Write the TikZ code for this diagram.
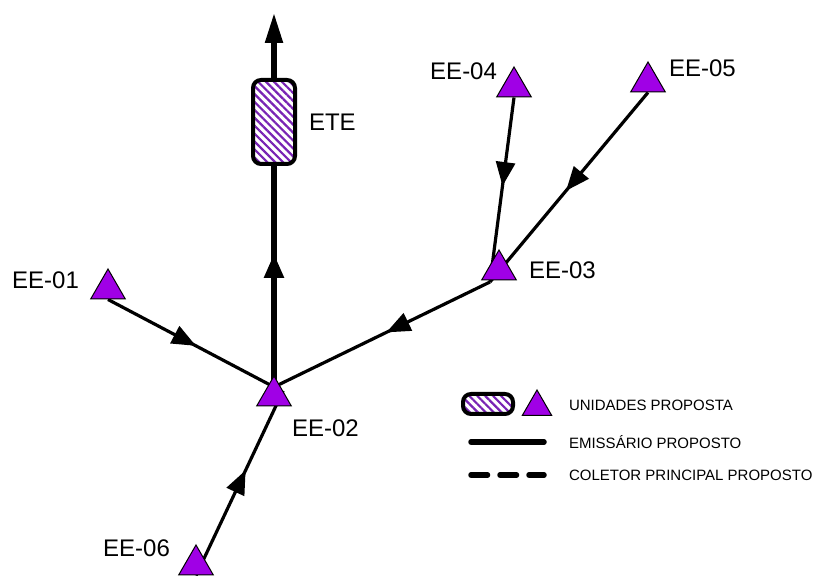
\documentclass[tikz,border=0pt]{standalone}
\usepackage{fontspec}
\setmainfont{Liberation Sans}
\usetikzlibrary{shapes.geometric,arrows.meta,decorations.markings,patterns.meta,backgrounds}
\definecolor{eepurple}{RGB}{160,0,230}
\definecolor{hatch}{RGB}{120,35,180}
\tikzset{
    station/.style={regular polygon,regular polygon sides=3,draw,line width=0.5pt,fill=eepurple,inner sep=0pt,minimum size=#1},
    station/.default=20pt,
    plant/.style={draw,line width=2pt,rounded corners=4pt,pattern={Lines[angle=-45,distance=2.8pt,line width=1.1pt]},pattern color=hatch},
    coletor/.style={line width=1.6pt},
    emissario/.style={line width=2.6pt},
    flow/.style={postaction={decorate},decoration={markings,mark=at position #1 with {\arrow{Triangle[length=12pt,width=9.5pt]}}}},
    flow/.default=0.5,
    eename/.style={font=\fontsize{12}{14}\selectfont},
    keytext/.style={font=\fontsize{7.5}{9}\selectfont}
}
\begin{document}
\begin{tikzpicture}[x=0.5pt,y=-0.5pt]
            \useasboundingbox (0,0) rectangle (815,576);

            \node[station] (ee01) at (108,289) {};
            \node[station] (ee02) at (274,396) {};
            \node[station] (ee03) at (499,270) {};
            \node[station] (ee04) at (514,87) {};
            \node[station] (ee05) at (648,82) {};
            \node[station] (ee06) at (196,565) {};
            \node[plant,minimum width=21pt,minimum height=42pt] (ete) at (274,122) {};

            \coordinate (j02) at (274,387);
            \coordinate (j03) at (490,282);
            \coordinate (outlet) at (274,13);

            \node[eename,left] at (86,280) {EE-01};
            \node[eename,right] at (285,428) {EE-02};
            \node[eename,right] at (522,270) {EE-03};
            \node[eename,left] at (504,71) {EE-04};
            \node[eename,right] at (662,68) {EE-05};
            \node[eename,left] at (177,548) {EE-06};
            \node[eename,right] at (302,122) {ETE};

            \begin{scope}[on background layer]
                \draw[coletor,flow=0.53] (ee01.side 2) -- (j02);
                \draw[coletor,flow=0.48] (j03) -- (j02);
                \draw[coletor,flow=0.48] (ee04.side 2) -- (j03);
                \draw[coletor,flow=0.52] (ee05.side 2) -- (j03);
                \draw[coletor,flow=0.57] (ee06.side 2) -- (ee02.side 3);
                \draw[emissario,flow=0.6] (j02) -- (ete);
            \end{scope}
            \draw[emissario,-{Triangle[length=15pt,width=8.5pt]}] (ete) -- (outlet);

            \node[plant,minimum width=25pt,minimum height=10pt] (keyplant) at (488,404) {};
            \node[station=17pt] (keyee) at (537,407) {};
            \coordinate (solidA) at (471,442);
            \coordinate (solidB) at (544,442);
            \coordinate (dashA) at (471,475);
            \coordinate (dashB) at (544,475);
            \draw[line width=2.75pt,line cap=round] (solidA) -- (solidB);
            \draw[line width=2.75pt,line cap=round,dash pattern=on 8.25pt off 6.25pt] (dashA) -- (dashB);
            \node[keytext,right] at (562,405) {UNIDADES PROPOSTA};
            \node[keytext,right] at (562,442) {EMISSÁRIO PROPOSTO};
            \node[keytext,right] at (562,475) {COLETOR PRINCIPAL PROPOSTO};
        \end{tikzpicture}
\end{document}
